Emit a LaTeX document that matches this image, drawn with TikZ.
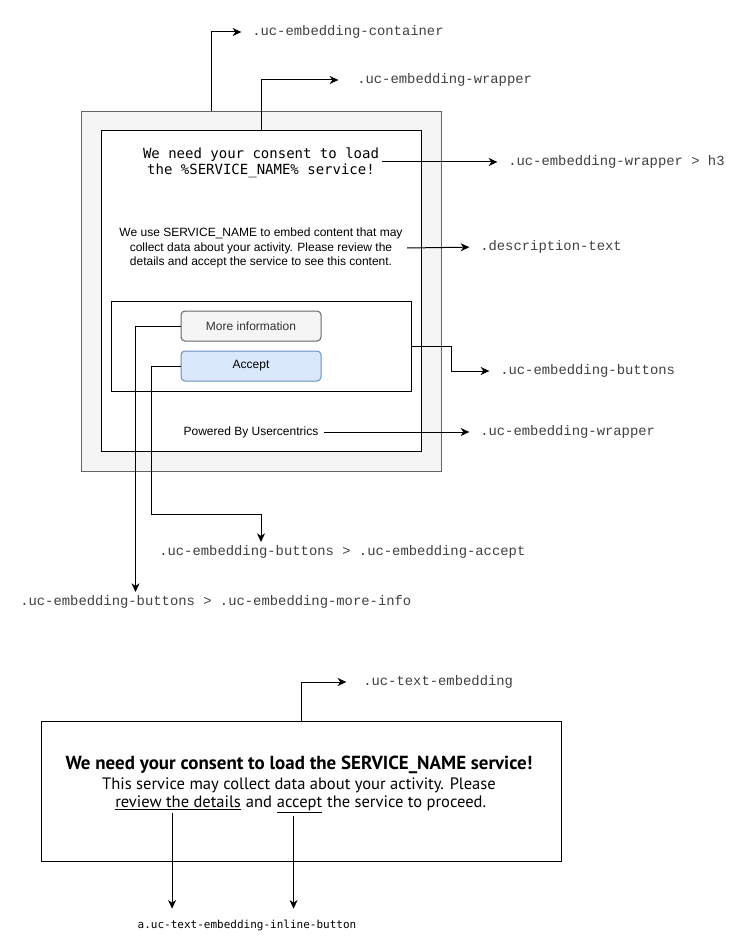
\documentclass[tikz,border=0pt]{standalone}
\usepackage{fontspec}
\setmainfont{Liberation Sans}
\newfontfamily\classfont{Liberation Mono}
\newfontfamily\headfont{DejaVu Sans Mono}
\newfontfamily\inlinefont{PT Sans}
\usetikzlibrary{arrows.meta,fit,positioning}
\definecolor{shellfill}{HTML}{F5F5F5}
\definecolor{shellline}{HTML}{666666}
\definecolor{btntext}{HTML}{333333}
\definecolor{acceptfill}{HTML}{DAE8FC}
\definecolor{acceptline}{HTML}{6C8EBF}
\tikzset{
  box/.style={draw,line width=0.75pt,inner sep=0pt},
  shell/.style={box,draw=shellline,fill=shellfill},
  btn/.style={box,rounded corners=3pt,minimum width=105pt,minimum height=22.5pt,font=\fontsize{9}{11}\selectfont},
  cls/.style={anchor=west,inner sep=0pt,text=black!75,font=\classfont\fontsize{10.4}{12}\selectfont},
  arr/.style={line width=0.75pt,-{Stealth[length=6.5pt,width=6pt,inset=2pt]},shorten >=8pt},
  inl/.style={inner sep=0pt,font=\inlinefont\fontsize{12.4}{15}\selectfont},
}

\begin{document}
\begin{tikzpicture}[x=0.75pt,y=-0.75pt]
\useasboundingbox (0,0) rectangle (742,952);
\node[shell,fit={(81,111.5) (441,471)}] (container) {};
\node[box,fill=white,fit={(101,131) (421,451)}] (wrapper) {};
\node[box,fit={(111,301) (411,391)}] (buttons) {};
\node[btn,draw=shellline,fill=shellfill,text=btntext] (moreinfo) at (251,326) {More information};
\node[btn,draw=acceptline,fill=acceptfill] (accept) at (251,366) {Accept};
\node[align=center,inner sep=0pt,font=\headfont\fontsize{10.5}{12}\selectfont] (heading) at (261,163) {We need your consent to load\\the \%SERVICE\_NAME\% service!};
\node[align=center,font=\fontsize{9}{10.8}\selectfont] (desc) at (261,248) {We use SERVICE\_NAME to embed content that may\\collect data about your activity. Please review the\\details and accept the service to see this content.};
\node[font=\fontsize{9}{11}\selectfont] (powered) at (251,432) {Powered By Usercentrics};

\node[cls] (lblcontainer) at (252,32) {.uc-embedding-container};
\node[cls] (lblwrapper) at (357,80) {.uc-embedding-wrapper};
\node[cls] (lblh3) at (508,162) {.uc-embedding-wrapper > h3};
\node[cls] (lbldesc) at (480,247) {.description-text};
\node[cls] (lblbuttons) at (500,371) {.uc-embedding-buttons};
\node[cls] (lblpowered) at (480,432) {.uc-embedding-wrapper};
\node[cls] (lblaccept) at (159,552) {.uc-embedding-buttons > .uc-embedding-accept};
\node[cls] (lblmoreinfo) at (20,602) {.uc-embedding-buttons > .uc-embedding-more-info};
\coordinate (accepttip) at (261,542);
\coordinate (moretip) at (135.5,592);

\draw[arr] (container.north) ++(-50,0) |- (lblcontainer.west);
\draw[arr,shorten >=14pt] (wrapper.north) |- (lblwrapper.west);
\draw[arr] (heading.east) ++(3,-1) -- (lblh3.west);
\draw[arr] (desc.east) -- (lbldesc.west);
\draw[arr] (buttons.east) -| ++(40,25) -- (lblbuttons.west);
\draw[arr] (powered.east) ++(1,0) -- (lblpowered.west);
\draw[arr,shorten >=0pt] (accept.west) -| ++(-29.5,148) -| (accepttip);
\draw[arr,shorten >=0pt] (moreinfo.west) -| (moretip);

\node[box,fit={(41,721) (561,861)}] (textbox) {};
\node[inl,anchor=base,font=\inlinefont\bfseries\fontsize{14.2}{15}\selectfont] (consenttitle) at (299,769) {We need your consent to load the SERVICE\_NAME service!};
\node[inl,anchor=base] (consentbody) at (299,789) {This service may collect data about your activity. Please};
\node[inl,anchor=base west] (reviewlink) at (115,807.5) {\underline{review the details}};
\node[inl,base right=0pt of reviewlink] (andword) {\ and\ \null};
\node[inl,base right=0pt of andword] (acceptlink) {\underline{accept}};
\node[inl,base right=0pt of acceptlink] (restline) {\ the service to proceed.};
\node[cls] (lbltext) at (363,682) {.uc-text-embedding};
\node[inner sep=0pt,font=\headfont\fontsize{8.25}{10}\selectfont] (inlinelbl) at (247,925) {a.uc-text-embedding-inline-button};

\draw[arr,shorten >=12.5pt] (textbox.north) |- (lbltext.west);
\draw[arr] ([xshift=-4.5pt,yshift=-2pt]reviewlink.south) -- ([xshift=-4.5pt]reviewlink.south |- inlinelbl.north);
\draw[arr] ([xshift=-4.5pt,yshift=-2pt]acceptlink.south) -- ([xshift=-4.5pt]acceptlink.south |- inlinelbl.north);
\end{tikzpicture}
\end{document}
